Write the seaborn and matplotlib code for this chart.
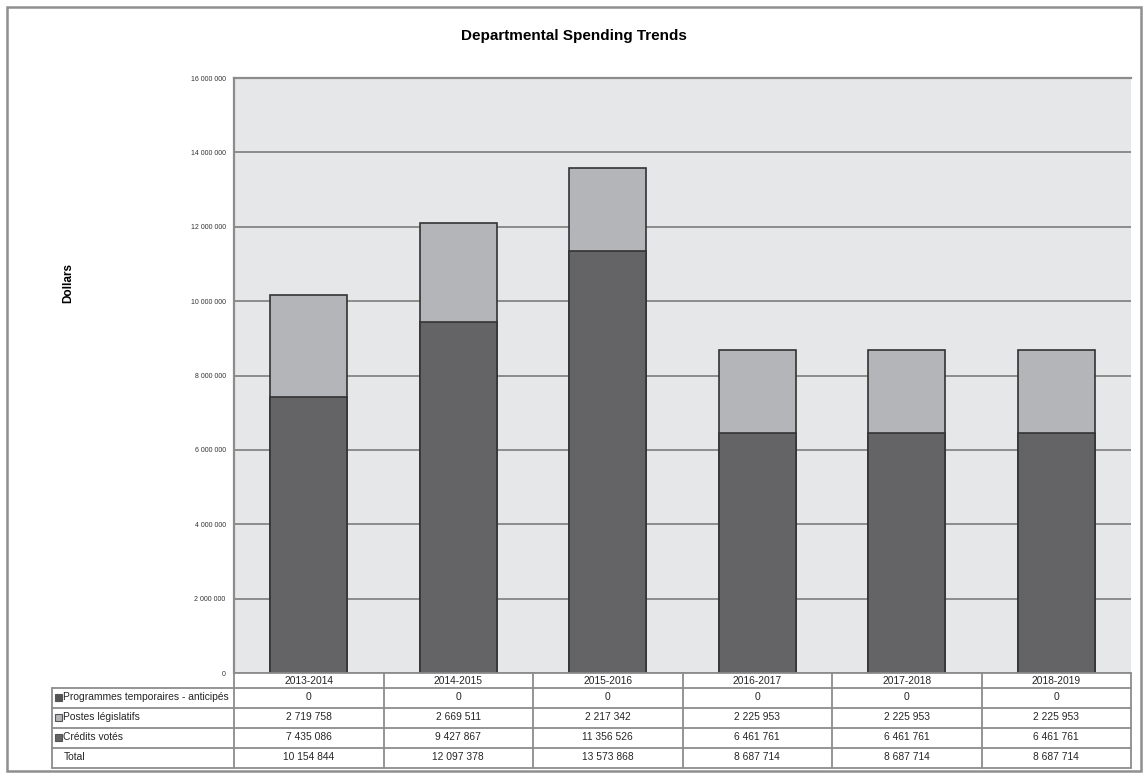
import matplotlib
matplotlib.use("Agg")
import matplotlib.pyplot as plt
import matplotlib.transforms as mtrans
from matplotlib.lines import Line2D
from matplotlib.patches import Rectangle
import seaborn as sns
import pandas as pd

years = ["2013-2014", "2014-2015", "2015-2016", "2016-2017", "2017-2018", "2018-2019"]
programmes = [0, 0, 0, 0, 0, 0]
postes = [2719758, 2669511, 2217342, 2225953, 2225953, 2225953]
credits = [7435086, 9427867, 11356526, 6461761, 6461761, 6461761]
totals = [10154844, 12097378, 13573868, 8687714, 8687714, 8687714]
row_labels = ["Programmes temporaires - anticipés", "Postes législatifs", "Crédits votés", "Total"]
yticks = [0, 2000000, 4000000, 6000000, 8000000, 10000000, 12000000, 14000000, 16000000]

DARK = "#646466"
LIGHT = "#b4b5b8"
BG = "#e6e7e9"
GRID = "#8c8c8c"

sns.set_theme(style="white")
plt.rcParams['font.family'] = ['Liberation Sans', 'DejaVu Sans']

W, H = 1148, 778
fig = plt.figure(figsize=(W / 100, H / 100), dpi=100)

def fx(x):
    return x / W

def fy(y):
    return 1 - y / H

ax_l, ax_r, ax_t, ax_b = 234, 1131, 78, 673
ax = fig.add_axes([fx(ax_l), fy(ax_b), fx(ax_r) - fx(ax_l), fy(ax_t) - fy(ax_b)])
ax.set_facecolor(BG)

df = pd.DataFrame({"year": years, "total": totals, "credits": credits})
sns.barplot(data=df, x="year", y="total", color=LIGHT, saturation=1, width=0.515,
            edgecolor="#333333", linewidth=1.2, ax=ax, zorder=3)
sns.barplot(data=df, x="year", y="credits", color=DARK, saturation=1, width=0.515,
            edgecolor="#333333", linewidth=1.2, ax=ax, zorder=4)

ax.set_xlim(-0.5, len(years) - 0.5)
ax.set_ylim(0, 16000000)
ax.set_yticks(yticks)
ax.set_yticklabels([f"{v:,}".replace(",", " ") for v in yticks], fontsize=5, color="#333333")
ax.tick_params(axis="y", length=0, pad=6)
ax.set_xticks([])
ax.set_xlabel("")
ax.set_ylabel("")
ax.yaxis.grid(True, color=GRID, linewidth=1.4)
ax.set_axisbelow(True)
for s in ["left", "top"]:
    ax.spines[s].set_visible(True)
    ax.spines[s].set_color(GRID)
    ax.spines[s].set_linewidth(1.6)
for s in ["right", "bottom"]:
    ax.spines[s].set_visible(False)

fig.text(0.5, fy(36), "Departmental Spending Trends", ha="center", va="center",
         fontsize=11, fontweight="bold", color="black")
fig.text(fx(68), fy(283), "Dollars", ha="center", va="center", rotation=90,
         fontsize=8.5, fontweight="bold", color="black")

# outer frame
fig.add_artist(Rectangle((fx(7), fy(771)), fx(1141) - fx(7), fy(7) - fy(771),
                         transform=fig.transFigure, fill=False, edgecolor="#8f8f8f", linewidth=1.8))

# data table
tr = mtrans.blended_transform_factory(ax.transData, fig.transFigure)
TL = "#8c8c8c"
row_y = [673, 688, 708, 728, 748, 768]
tab_left = 52
n = len(years)

def hline(x0, x1, y):
    fig.add_artist(Line2D([fx(x0), fx(x1)], [fy(y), fy(y)], transform=fig.transFigure,
                          color=TL, linewidth=1.3))

hline(ax_l, ax_r, row_y[0])
for y in row_y[1:]:
    hline(tab_left, ax_r, y)
fig.add_artist(Line2D([fx(tab_left)] * 2, [fy(row_y[1]), fy(row_y[-1])], transform=fig.transFigure,
                      color=TL, linewidth=1.3))
for i in range(n + 1):
    fig.add_artist(Line2D([i - 0.5, i - 0.5], [fy(row_y[0]), fy(row_y[-1])], transform=tr,
                          color=TL, linewidth=1.3))

fs = 7.4
for i, yr in enumerate(years):
    fig.text(i, fy((row_y[0] + row_y[1]) / 2), yr, transform=tr, ha="center", va="center", fontsize=fs)
rows_vals = [programmes, postes, credits, totals]
for r, vals in enumerate(rows_vals):
    yc = fy((row_y[r + 1] + row_y[r + 2]) / 2 - 1)
    for i, v in enumerate(vals):
        fig.text(i, yc, f"{v:,}".replace(",", " "), transform=tr, ha="center", va="center", fontsize=fs)
    fig.text(fx(tab_left + 11 if r < 3 else tab_left + 12), yc, row_labels[r], ha="left", va="center", fontsize=fs)

marker_fc = ["#555555", LIGHT, DARK]
for r in range(3):
    yc = (row_y[r + 1] + row_y[r + 2]) / 2 - 1
    fig.add_artist(Rectangle((fx(tab_left + 3), fy(yc + 3.5)), fx(7), 7 / H, transform=fig.transFigure,
                             facecolor=marker_fc[r], edgecolor="#555555", linewidth=0.8))

fig.savefig("out.png", dpi=100)
